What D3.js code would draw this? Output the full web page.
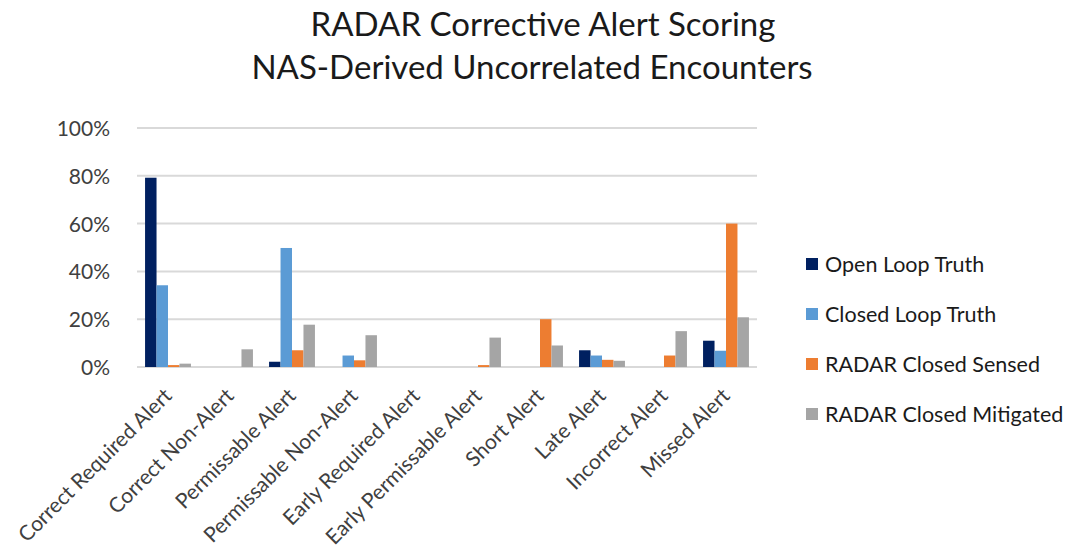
<!DOCTYPE html>
<html>
<head>
<meta charset="utf-8">
<script src="https://cdnjs.cloudflare.com/ajax/libs/d3/7.8.5/d3.min.js"></script>
<style>
  body { margin: 0; background: #fff; }
  text { font-family: Lato, "Open Sans", sans-serif; fill: #1a1a1a; }
  .axis text { fill: #404040; }
</style>
</head>
<body>
<script>
// categories and series
var categories = ["Correct Required Alert", "Correct Non-Alert", "Permissable Alert",
  "Permissable Non-Alert", "Early Required Alert", "Early Permissable Alert",
  "Short Alert", "Late Alert", "Incorrect Alert", "Missed Alert"];
var seriesNames = ["Open Loop Truth", "Closed Loop Truth", "RADAR Closed Sensed", "RADAR Closed Mitigated"];
var seriesColors = ["#002060", "#5b9bd5", "#ed7d31", "#a5a5a5"];

// values in percent
var openLoop      = [79.2, 0, 2.2, 0,   0, 0,   0,  7.0, 0,   11.0];
var closedLoop    = [34.2, 0, 49.8, 4.8, 0, 0,   0,  4.8, 0,   6.8];
var radarSensed   = [0.8,  0, 7.0, 2.8, 0, 0.8, 20, 3.0, 4.8, 60.0];
var radarMitigated= [1.4,  7.4, 17.7, 13.3, 0, 12.3, 9.0, 2.6, 15.0, 20.8];
var yTicks = [0, 20, 40, 60, 80, 100];

var seriesValues = [openLoop, closedLoop, radarSensed, radarMitigated];

var W = 1065, H = 555;
var margin = {left: 137, top: 128, right: 308, bottom: 188};
var width = W - margin.left - margin.right,
    height = H - margin.top - margin.bottom;

var svg = d3.select("body").append("svg")
    .attr("width", W)
    .attr("height", H);

// title
var title = svg.append("text")
    .attr("text-anchor", "middle")
    .style("font-size", "33px");
title.append("tspan").attr("x", 543).attr("y", 36).text("RADAR Corrective Alert Scoring");
title.append("tspan").attr("x", 532).attr("y", 79).text("NAS-Derived Uncorrelated Encounters");

var g = svg.append("g")
    .attr("transform", "translate(" + margin.left + "," + margin.top + ")");

var x0 = d3.scaleBand().domain(categories).range([0, width]).paddingInner(0.26).paddingOuter(0.13);
var x1 = d3.scaleBand().domain(d3.range(seriesNames.length)).range([0, x0.bandwidth()]);
var y = d3.scaleLinear().domain([0, 100]).range([height, 0]);

// gridlines
g.selectAll(".grid")
  .data(yTicks)
  .enter().append("line")
    .attr("x1", 0).attr("x2", width)
    .attr("y1", function(d) { return y(d); })
    .attr("y2", function(d) { return y(d); })
    .attr("stroke", "#d9d9d9")
    .attr("stroke-width", 2);

// y labels
g.append("g")
    .attr("class", "axis")
    .attr("transform", "translate(-24,0)")
    .call(d3.axisLeft(y).tickValues(yTicks).tickSize(0).tickFormat(function(d) { return d + "%"; }))
    .call(function(a) { a.select(".domain").remove(); })
    .selectAll("text")
      .style("font-size", "21px")
      .attr("dy", "0.36em");

// bars
var groups = g.selectAll(".cat")
  .data(categories)
  .enter().append("g")
    .attr("transform", function(d) { return "translate(" + x0(d) + ",0)"; });

groups.selectAll("rect")
  .data(function(d, i) { return seriesValues.map(function(s, k) { return {k: k, v: s[i]}; }); })
  .enter().append("rect")
    .attr("x", function(d) { return x1(d.k); })
    .attr("width", x1.bandwidth())
    .attr("y", function(d) { return y(d.v); })
    .attr("height", function(d) { return height - y(d.v); })
    .attr("fill", function(d) { return seriesColors[d.k]; });

// x labels
g.append("g")
    .attr("class", "axis")
    .attr("transform", "translate(0," + height + ")")
    .call(d3.axisBottom(x0).tickSize(0))
    .call(function(a) { a.select(".domain").remove(); })
    .selectAll("text")
      .style("font-size", "21px")
      .style("text-anchor", "end")
      .attr("dx", 0)
      .attr("dy", 0)
      .attr("transform", "translate(3,28) rotate(-45)");

// legend
var legend = svg.append("g").attr("transform", "translate(806,264)");
var items = legend.selectAll("g")
  .data(seriesNames)
  .enter().append("g")
    .attr("transform", function(d, i) { return "translate(0," + (i * 50) + ")"; });
items.append("rect")
    .attr("x", 0).attr("y", -6)
    .attr("width", 12).attr("height", 12)
    .attr("fill", function(d, i) { return seriesColors[i]; });
items.append("text")
    .attr("x", 19)
    .attr("dy", "0.36em")
    .style("font-size", "21.5px")
    .text(function(d) { return d; });
</script>
</body>
</html>
